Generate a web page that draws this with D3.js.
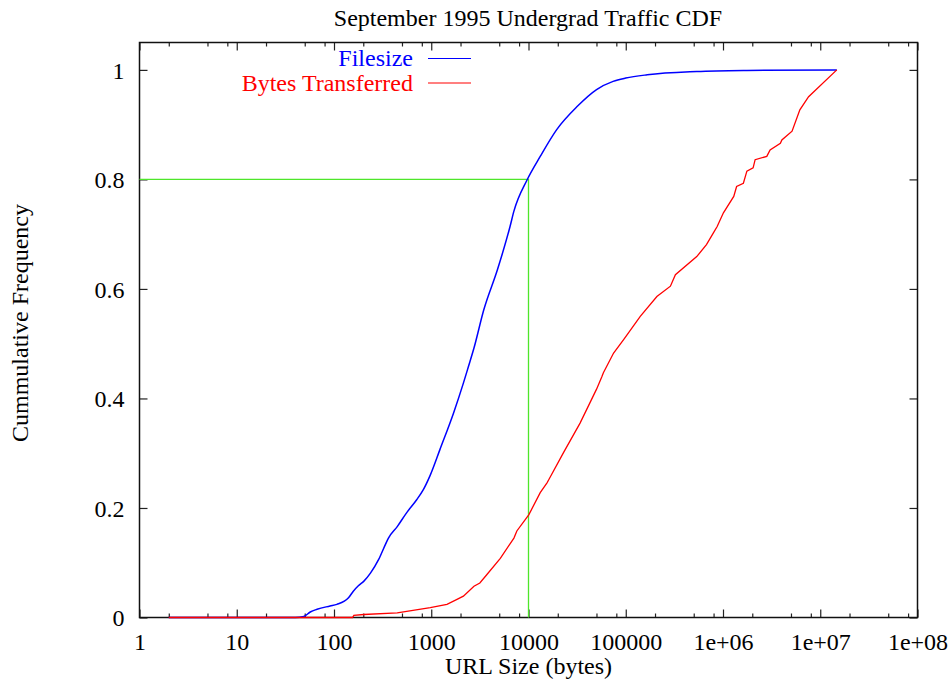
<!DOCTYPE html>
<html>
<head>
<meta charset="utf-8">
<script src="https://cdn.jsdelivr.net/npm/d3@7"></script>
<style>
  body { margin: 0; background: #fff; }
  svg { display: block; }
</style>
</head>
<body>
<div id="graph"></div>
<script>
// file size CDF (bytes, cumulative fraction)
const filesizeX = [2, 40, 49, 57, 67, 91, 107, 141, 158, 178, 202, 237, 288, 339, 363, 447, 562, 708, 832, 977,
    1230, 1700, 2140, 2400, 2750, 3470, 4790, 6460, 7080, 9660, 13200, 19500, 31600, 50100, 74100, 100000, 166000,
    537000, 1760000, 14800000];
const filesizeY = [0, 0, 0.002, 0.010, 0.015, 0.021, 0.024, 0.036, 0.048, 0.058, 0.066, 0.081, 0.106, 0.134, 0.145,
    0.166, 0.192, 0.215, 0.234, 0.260, 0.307, 0.374, 0.428, 0.457, 0.492, 0.562, 0.635, 0.714, 0.742, 0.799,
    0.842, 0.891, 0.933, 0.964, 0.979, 0.985, 0.991, 0.997, 0.999, 1.0];

// bytes transferred CDF
const bytesX = [2, 155, 160, 202, 447, 977, 1450, 1840, 2140, 2750, 3160, 3720, 5130, 7080, 7590, 10100, 13200,
    15500, 16200, 22900, 33900, 50100, 56900, 58900, 75000, 95500, 141000, 209000, 288000, 324000, 537000,
    676000, 794000, 871000, 1010000, 1290000, 1380000, 1620000, 1760000, 2040000, 2140000, 2820000, 3050000,
    3890000, 4030000, 5130000, 6170000, 7590000, 14800000];
const bytesY = [0, 0, 0.004, 0.0055, 0.0085, 0.018, 0.024, 0.033, 0.039, 0.057, 0.063, 0.078, 0.108, 0.145, 0.158,
    0.188, 0.228, 0.246, 0.252, 0.301, 0.355, 0.417, 0.440, 0.447, 0.483, 0.508, 0.550, 0.586, 0.605, 0.626,
    0.659, 0.681, 0.702, 0.714, 0.739, 0.769, 0.787, 0.793, 0.815, 0.821, 0.836, 0.842, 0.854, 0.866, 0.872,
    0.888, 0.927, 0.951, 1.0];

// 80th percentile guide
const guideX = [1, 10000, 10000];
const guideY = [0.8, 0.8, 0];

const xTicks = [1, 10, 100, 1000, 10000, 100000, 1e6, 1e7, 1e8];
const xTickLabels = ["1", "10", "100", "1000", "10000", "100000", "1e+06", "1e+07", "1e+08"];
const xMinor = [2, 5, 8, 20, 50, 80, 200, 500, 800, 2000, 5000, 8000, 20000, 50000, 80000,
    2e5, 5e5, 8e5, 2e6, 5e6, 8e6, 2e7, 5e7, 8e7];
const yTicks = [0, 0.2, 0.4, 0.6, 0.8, 1];
const yTickLabels = ["0", "0.2", "0.4", "0.6", "0.8", "1"];

const W = 952, H = 679;
const plotL = 139.5, plotR = 917.5, plotT = 42.5, plotB = 617.5;
const fontSize = "24px";
const serif = "'Liberation Serif', 'Times New Roman', Times, serif";

const svg = d3.select("#graph").append("svg")
    .attr("width", W)
    .attr("height", H)
    .style("font-family", serif);

const x = d3.scaleLog().domain([1, 1e8]).range([plotL, plotR]);
const y = d3.scaleLinear().domain([0, 1.05]).range([plotB, plotT]);

function pairs(xs, ys) {
    return xs.map(function(v, i) { return [v, ys[i]]; });
}

function styleAxis(g) {
    g.attr("font-family", null).attr("font-size", null);
    g.select(".domain").remove();
    g.selectAll(".tick line").attr("stroke", "#222").attr("stroke-width", 1.2);
    g.selectAll("text")
        .style("font-family", serif)
        .style("font-size", fontSize)
        .attr("fill", "#000");
}

function label(txt) {
    return svg.append("text")
        .style("font-family", serif)
        .style("font-size", fontSize)
        .text(txt);
}

// bottom axis
svg.append("g")
    .attr("transform", "translate(0," + plotB + ")")
    .call(d3.axisBottom(x).tickValues(xTicks).tickSize(-8)
        .tickFormat(function(d, i) { return xTickLabels[i]; }))
    .call(styleAxis)
    .call(function(g) { g.selectAll("text").attr("y", 0).attr("dy", 32.5); });
svg.append("g")
    .attr("transform", "translate(0," + plotB + ")")
    .call(d3.axisBottom(x).tickValues(xMinor).tickSize(-4).tickFormat(""))
    .call(styleAxis);

// top axis (mirror)
svg.append("g")
    .attr("transform", "translate(0," + plotT + ")")
    .call(d3.axisTop(x).tickValues(xTicks).tickSize(-8).tickFormat(""))
    .call(styleAxis);
svg.append("g")
    .attr("transform", "translate(0," + plotT + ")")
    .call(d3.axisTop(x).tickValues(xMinor).tickSize(-4).tickFormat(""))
    .call(styleAxis);

// left axis
svg.append("g")
    .attr("transform", "translate(" + plotL + ",0)")
    .call(d3.axisLeft(y).tickValues(yTicks).tickSize(-8).tickPadding(15)
        .tickFormat(function(d, i) { return yTickLabels[i]; }))
    .call(styleAxis)
    .call(function(g) { g.selectAll("text").attr("dy", "0.34em"); });

// right axis (mirror)
svg.append("g")
    .attr("transform", "translate(" + plotR + ",0)")
    .call(d3.axisRight(y).tickValues(yTicks).tickSize(-8).tickFormat(""))
    .call(styleAxis);

// frame
svg.append("rect")
    .attr("x", plotL)
    .attr("y", plotT)
    .attr("width", plotR - plotL)
    .attr("height", plotB - plotT)
    .attr("fill", "none")
    .attr("stroke", "#111")
    .attr("stroke-width", 1.5);

const line = d3.line()
    .x(function(d) { return x(d[0]); })
    .y(function(d) { return y(d[1]); });

svg.append("path")
    .attr("d", line(pairs(guideX, guideY)))
    .attr("fill", "none")
    .attr("stroke", "#4ee62a")
    .attr("stroke-width", 1.3);

svg.append("path")
    .attr("d", line.curve(d3.curveMonotoneX)(pairs(filesizeX, filesizeY)))
    .attr("fill", "none")
    .attr("stroke", "#0000ff")
    .attr("stroke-width", 1.5);

svg.append("path")
    .attr("d", line.curve(d3.curveLinear)(pairs(bytesX, bytesY)))
    .attr("fill", "none")
    .attr("stroke", "#ff0000")
    .attr("stroke-width", 1.3);

// legend
const legend = [
    { name: "Filesize", color: "#0000ff" },
    { name: "Bytes Transferred", color: "#ff0000" }
];
legend.forEach(function(l, i) {
    const by = 66 + i * 24.5;
    label(l.name)
        .attr("x", 413)
        .attr("y", by)
        .attr("text-anchor", "end")
        .attr("fill", l.color);
    svg.append("line")
        .attr("x1", 428)
        .attr("x2", 471)
        .attr("y1", by - 7.5)
        .attr("y2", by - 7.5)
        .attr("stroke", l.color)
        .attr("stroke-width", 1.2);
});

// title
label("September 1995 Undergrad Traffic CDF")
    .attr("x", 528)
    .attr("y", 26)
    .attr("text-anchor", "middle");

// x axis label
label("URL Size (bytes)")
    .attr("x", 528.5)
    .attr("y", 673.5)
    .attr("text-anchor", "middle");

// y axis label
label("Cummulative Frequency")
    .attr("transform", "translate(28,323) rotate(-90)")
    .attr("text-anchor", "middle");
</script>
</body>
</html>
